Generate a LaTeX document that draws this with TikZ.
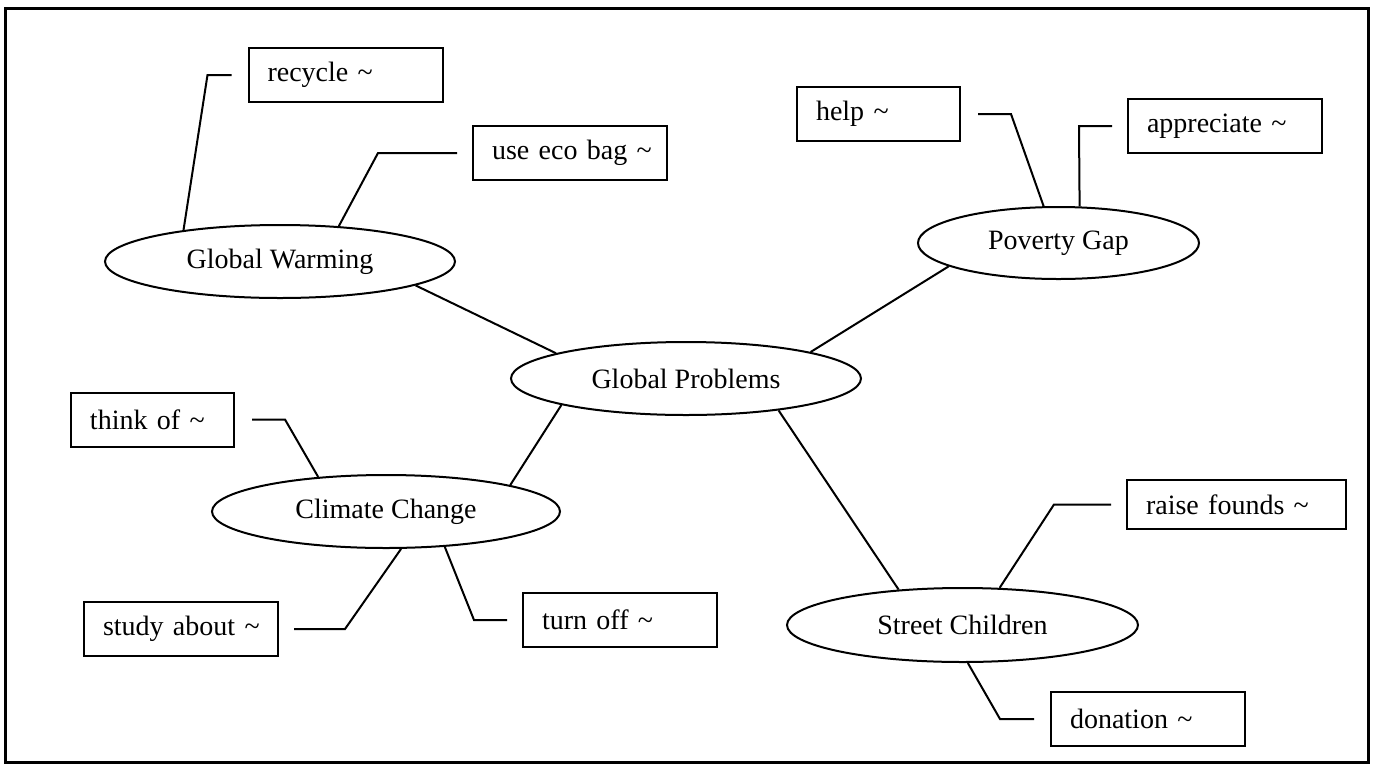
\documentclass[tikz,border=0pt]{standalone}
\usepackage{fontspec}
\setmainfont{Liberation Serif}
\usetikzlibrary{shapes.geometric}

\begin{document}
\begin{tikzpicture}[x=0.5pt, y=-0.5pt, line width=1pt,
    font=\fontsize{14pt}{16pt}\selectfont,
    topic/.style={draw, ellipse, inner sep=0pt, minimum width=175pt, minimum height=36.5pt},
    idea/.style={draw, rectangle, inner xsep=9.5pt, inner ysep=0pt, minimum height=27pt, text width=78pt,
        align=left, execute at begin node=\hbox\bgroup, execute at end node=\egroup},
    shortidea/.style={idea, text width=62.5pt},
    link/.style={shorten <=8pt}]

    \useasboundingbox (0,0) rectangle (1373,767);
    \draw [line width=1.5pt] (5,8) rectangle (1368,762);

    \node[topic] (gp) at (686, 378.5) {Global Problems};
    \node[topic] (gw) at (280, 261.5) {Global Warming};
    \node[topic, minimum width=140.5pt, minimum height=36pt] (pg) at (1058.5, 243) {Poverty Gap};
    \node[topic, minimum width=174pt] (cc) at (386, 511.5) {Climate Change};
    \node[topic, minimum width=175.5pt, minimum height=37pt] (sc) at (962.5, 625) {Street Children};

    \node[idea] (rec) at (345.5, 75) {recycle \textasciitilde};
    \node[idea] (eco) at (570, 153) {use eco bag \textasciitilde};
    \node[shortidea] (help) at (878.5, 114) {help \textasciitilde};
    \node[idea] (app) at (1225, 126) {appreciate \textasciitilde};
    \node[shortidea] (think) at (152.5, 419.5) {think of \textasciitilde};
    \node[idea] (study) at (181, 629) {study about \textasciitilde};
    \node[idea] (tof) at (620, 620) {turn off \textasciitilde};
    \node[idea, text width=90.5pt, minimum height=24.5pt] (raise) at (1236.5, 504.5) {raise founds \textasciitilde};
    \node[idea] (don) at (1148, 719) {donation \textasciitilde};

    % main branches
    \draw (gw.-10) -- (gp.169);
    \draw (pg.-168) -- (gp.12);
    \draw (gp.-168) -- (cc.12);
    \draw (gp.-19) -- (sc.151);

    % sub branches
    \draw [link] (rec.west) -- ++(-40,0) -- (gw.162);
    \draw [link, shorten <=7.5pt] (eco.west) -- ++(-94,0) -- (gw.31);
    \draw [link, shorten <=8.5pt] (help.east) -- ++(50,0) -- (pg.112);
    \draw [link, shorten <=7.5pt] (app.west) -- ++(-48,0) -- (pg.60);
    \draw [link, shorten <=8.5pt] (think.east) -- ++(50,0) -- (cc.153);
    \draw [link, shorten <=7.5pt] (study.east) -- ++(66,0) -- (cc.-68);
    \draw [link, shorten <=7.5pt] (tof.west) -- ++(-48,0) -- (cc.-31);
    \draw [link, shorten <=7.5pt] (raise.west) -- ++(-72,0) -- (sc.45);
    \draw [link] (don.west) -- ++(-50,0) -- (sc.-82);

\end{tikzpicture}
\end{document}
